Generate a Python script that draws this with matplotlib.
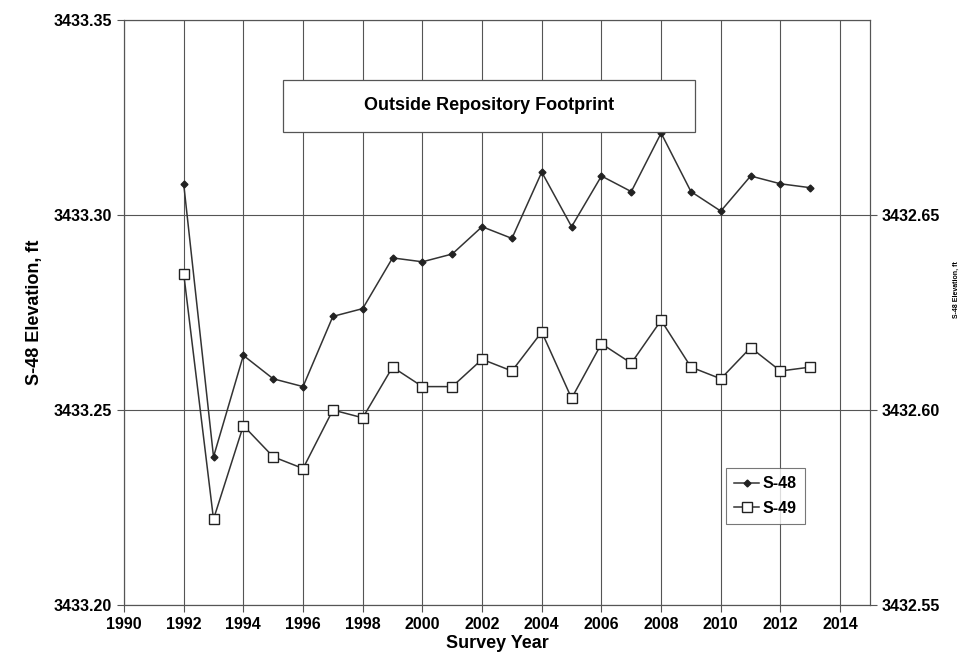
import numpy as np
import matplotlib.pyplot as plt
from matplotlib import font_manager
from matplotlib.patches import Rectangle

years = list(range(1992, 2014))
s48 = [3433.308, 3433.238, 3433.264, 3433.258, 3433.256, 3433.274, 3433.276,
       3433.289, 3433.288, 3433.290, 3433.297, 3433.294, 3433.311, 3433.297,
       3433.310, 3433.306, 3433.321, 3433.306, 3433.301, 3433.310, 3433.308,
       3433.307]
s49 = [3432.635, 3432.572, 3432.596, 3432.588, 3432.585, 3432.600, 3432.598,
       3432.611, 3432.606, 3432.606, 3432.613, 3432.610, 3432.620, 3432.603,
       3432.617, 3432.612, 3432.623, 3432.611, 3432.608, 3432.616, 3432.610,
       3432.611]
left_ticks = [3433.20, 3433.25, 3433.30, 3433.35]
right_ticks = [3432.55, 3432.60, 3432.65]
xticks = list(range(1990, 2015, 2))

names = {f.name for f in font_manager.fontManager.ttflist}
fam = 'Liberation Sans Narrow' if 'Liberation Sans Narrow' in names else 'Liberation Sans'
plt.rcParams['font.family'] = [fam, 'DejaVu Sans']
plt.rcParams['font.weight'] = 'bold'

fig = plt.figure(figsize=(9.66, 6.69), dpi=100)
ax = fig.add_axes([124/966, 1-605/669, (870-124)/966, (605-20)/669])
ax2 = ax.twinx()

col = '#333333'
l1, = ax.plot(years, s48, color=col, lw=1.1, marker='D', ms=3.5,
              mfc='#222222', mec='#222222', label='S-48')
l2, = ax2.plot(years, s49, color=col, lw=1.1, marker='s', ms=6.5,
               mfc='white', mec='#222222', mew=1, label='S-49')

ax.set_xlim(1990, 2015)
ax.set_ylim(3433.20, 3433.35)
ax2.set_ylim(3432.55, 3432.70)
ax.set_xticks(xticks)
ax.set_yticks(left_ticks)
ax.set_yticklabels(['%.2f' % v for v in left_ticks])
ax2.set_yticks(right_ticks)
ax2.set_yticklabels(['%.2f' % v for v in right_ticks])
for a in (ax, ax2):
    a.tick_params(labelsize=11.5, length=5, width=0.8, color='#555555')
ax.grid(True, color='#555555', lw=0.8)
ax.set_axisbelow(True)
for a in (ax, ax2):
    for s in a.spines.values():
        s.set_color('#555555')
        s.set_linewidth(0.8)

ax.set_xlabel('Survey Year', fontsize=13, fontweight='bold', labelpad=2)
ax.set_ylabel('S-48 Elevation, ft', fontsize=13, fontweight='bold', labelpad=8)
# small right-hand axis title
fig.text(956/966, 1-290/669, 'S-48 Elevation, ft', rotation=90, fontsize=5,
         fontweight='bold', ha='center', va='center')

# title box
ax2.add_patch(Rectangle((0.213, 0.8085), 0.553, 0.0885, transform=ax.transAxes,
                        fc='white', ec='#555555', lw=0.9, zorder=5))
ax2.text(0.4895, 0.853, 'Outside Repository Footprint', transform=ax.transAxes,
         ha='center', va='center', fontsize=13, fontweight='bold', zorder=6)

leg = ax2.legend(handles=[l1, l2], loc='upper left', bbox_to_anchor=(0.796, 0.247),
                 fontsize=11.5, frameon=True, fancybox=False, edgecolor='#555555',
                 handlelength=1.6, handletextpad=0.2, borderpad=0.5, labelspacing=0.6)
leg.get_frame().set_linewidth(0.8)

fig.savefig('out.png', dpi=100)
